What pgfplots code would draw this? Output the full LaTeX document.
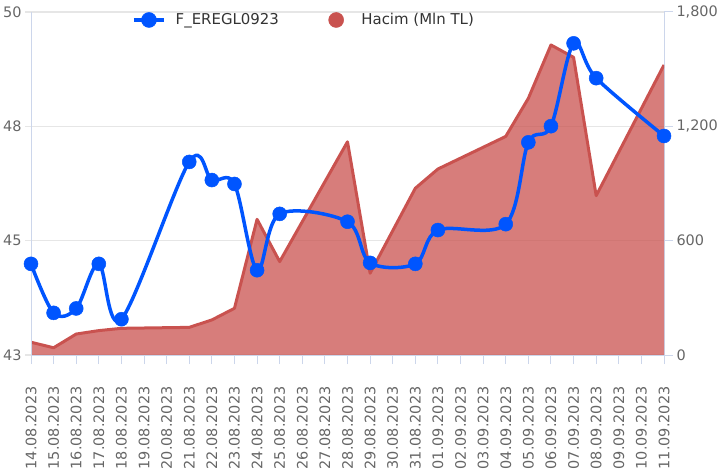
\documentclass[border=0pt]{standalone}
\usepackage{fontspec}
\setmainfont{DejaVu Sans}
\usepackage{pgfplots}
\pgfplotsset{compat=1.18}
\definecolor{pblue}{RGB}{0,85,255}
\definecolor{vred}{RGB}{201,82,79}
\definecolor{axcol}{RGB}{204,214,235}
\definecolor{gridc}{RGB}{230,230,230}
\definecolor{lab}{RGB}{102,102,102}
\definecolor{legtext}{RGB}{51,51,51}
\begin{document}
\begin{tikzpicture}
\path[use as bounding box] (0,0) rectangle (717bp,470bp);
\begin{axis}[
  at={(31bp,115bp)}, anchor=south west,
  scale only axis, width=633bp, height=343bp,
  xmin=0, xmax=28, ymin=0, ymax=1800,
  axis y line*=right,
  axis x line*=bottom,
  axis line style={-, axcol, line width=1bp},
  xtick={0,...,28},
  xticklabels={14.08.2023,15.08.2023,16.08.2023,17.08.2023,18.08.2023,19.08.2023,20.08.2023,21.08.2023,22.08.2023,23.08.2023,24.08.2023,25.08.2023,26.08.2023,27.08.2023,28.08.2023,29.08.2023,30.08.2023,31.08.2023,01.09.2023,02.09.2023,03.09.2023,04.09.2023,05.09.2023,06.09.2023,07.09.2023,08.09.2023,09.09.2023,10.09.2023,11.09.2023},
  ytick={0,600,1200,1800},
  yticklabels={0,600,{1,200},{1,800}},
  ymajorgrids, grid style={gridc, line width=1.3bp},
  tick align=outside,
  major tick length=9bp,
  tick style={axcol, line width=1bp},
  ticklabel style={font=\fontsize{14.5}{17}\selectfont, text=lab},
  xticklabel style={rotate=90, anchor=east, xshift=-19bp},
]
\addplot[draw=none, fill=vred, fill opacity=0.75] coordinates {
(0,67) (1,38) (2,110) (3,128) (4,140) (7,145) (8,184) (9,245) (10,712) (11,490) (14,1119) (15,429) (17,875) (18,976) (21,1147) (22,1347) (23,1627) (24,1562) (25,836) (28,1522)
} \closedcycle;
\addplot[vred, line width=3bp, line join=round] coordinates {
(0,67) (1,38) (2,110) (3,128) (4,140) (7,145) (8,184) (9,245) (10,712) (11,490) (14,1119) (15,429) (17,875) (18,976) (21,1147) (22,1347) (23,1627) (24,1562) (25,836) (28,1522)
};
\end{axis}
\begin{axis}[
  at={(31bp,115bp)}, anchor=south west,
  scale only axis, width=633bp, height=343bp,
  xmin=0, xmax=28, ymin=43, ymax=50,
  axis y line*=left,
  axis x line=none,
  axis line style={-, axcol, line width=1bp},
  ytick={43,45.33333,47.66667,50},
  yticklabels={43,45,48,50},
  tick align=outside,
  major tick length=6bp,
  tick style={gridc, line width=1.3bp},
  ticklabel style={font=\fontsize{14.5}{17}\selectfont, text=lab},
  clip=false,
  legend image code/.code={\path (0bp,0bp) (30bp,0bp); \draw[mark repeat=2,mark phase=2,#1] plot coordinates {(0bp,0bp) (15bp,0bp) (30bp,0bp)};},
  legend style={at={(0.1596,0.9767)}, anchor=west, draw=none, fill=none,
    font=\fontsize{15}{18}\selectfont, text=legtext, inner sep=0pt,
    legend columns=2,
    /tikz/every odd column/.append style={column sep=8bp},
    /tikz/every even column/.append style={column sep=40bp}},
]
\addplot[pblue, line width=3.5bp, smooth, tension=0.55, forget plot] coordinates {
(0,44.86) (1,43.86) (2,43.95) (3,44.86) (4,43.73) (7,46.94) (8,46.57) (9,46.49) (10,44.73) (11,45.88) (14,45.72) (15,44.88) (17,44.86) (18,45.55) (21,45.67) (22,47.34) (23,47.67) (24,49.36) (25,48.65) (28,47.47)
};
\addplot[only marks, color=pblue, mark=*, mark size=7bp, mark options={fill=pblue, draw=pblue, line width=0.5bp}, forget plot] coordinates {
(0,44.86) (1,43.86) (2,43.95) (3,44.86) (4,43.73) (7,46.94) (8,46.57) (9,46.49) (10,44.73) (11,45.88) (14,45.72) (15,44.88) (17,44.86) (18,45.55) (21,45.67) (22,47.34) (23,47.67) (24,49.36) (25,48.65) (28,47.47)
};
\addlegendimage{color=pblue, line width=3.5bp, mark=*, mark size=7.5bp, mark options={fill=pblue, draw=pblue, line width=0.5bp}}
\addlegendentry{F\_EREGL0923}
\addlegendimage{only marks, color=vred, mark=*, mark size=7.5bp, mark options={fill=vred, draw=vred, line width=0.5bp}}
\addlegendentry{Hacim (Mln TL)}
\end{axis}
\end{tikzpicture}
\end{document}
